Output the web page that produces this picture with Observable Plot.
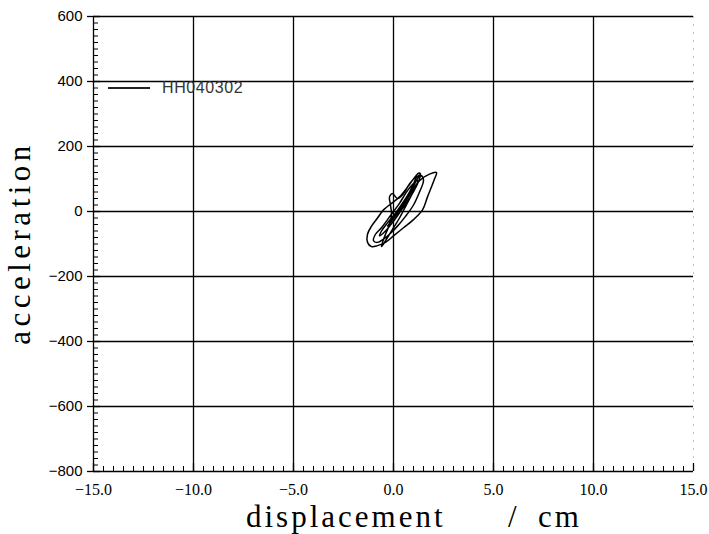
<!DOCTYPE html>
<html>
<head>
<meta charset="utf-8">
<script src="https://cdn.jsdelivr.net/npm/d3@7"></script>
<script src="https://cdn.jsdelivr.net/npm/@observablehq/plot@0.6"></script>
<style>
  html, body { margin: 0; padding: 0; background: #fff; }
  #wrap { position: relative; width: 709px; height: 534px; }
  #legend { position: absolute; left: 108px; top: 79px; display: flex; align-items: center;
            font-family: "Liberation Sans", Arial, sans-serif; font-size: 16px; letter-spacing: 0.6px; color: #333; }
  #legend .sw { width: 42px; height: 0; border-top: 2px solid #222; margin-right: 12px; }
</style>
</head>
<body>
<div id="wrap"><div id="legend"><span class="sw"></span><span>HH040302</span></div></div>
<script>
// displacement (cm) and acceleration
const displacement = [0.2,0.8,1.3,1.8,2.15,2.05,1.7,1.45,1.0,0.5,0.0,-0.4,-0.8,-1.1,-1.3,-1.3,-1.1,-0.8,-0.5,-0.1,0.3,0.7,1.0,1.25,1.35,1.2,0.9,0.6,0.3,0.0,-0.3,-0.5,-0.6,-0.55,-0.4,-0.2,-0.1,-0.15,-0.2,-0.05,0.2,0.5,0.8,1.1,1.4,1.5,1.3,1.0,0.6,0.2,-0.2,-0.5,-0.8,-1.0,-0.9,-0.6,-0.3,0.0,0.3,0.6,0.9,1.2,1.15,0.8,0.4,0.0,-0.4,-0.7,-0.6,-0.3,0.1,0.5,0.8,1.0,1.15,1.3,1.1,0.8,0.4,0.0,-0.3,-0.1,0.3,0.6,0.5,0.1,-0.2];
const acceleration = [-10,50,95,115,120,100,45,5,-25,-50,-75,-95,-105,-108,-95,-70,-45,-20,5,25,45,75,100,118,115,85,50,15,-20,-50,-80,-100,-108,-95,-70,-40,-10,20,45,55,40,55,85,105,110,95,60,20,-15,-45,-70,-85,-95,-90,-70,-50,-25,0,25,55,80,95,80,40,5,-30,-60,-75,-60,-35,-5,30,60,85,105,112,90,55,15,-20,-45,-30,5,35,20,-10,-35];
const xTicks = [-15,-10,-5,0,5,10,15];
const xTickLabels = ["\u221215.0","\u221210.0","\u22125.0","0.0","5.0","10.0","15.0"];
const yTicks = [-800,-600,-400,-200,0,200,400,600];
const yTickLabels = ["\u2212800","\u2212600","\u2212400","\u2212200","0","200","400","600"];
const xGrid = [-10,-5,0,5,10];
const yGrid = [-600,-400,-200,0,200,400,600];
const xMinor = d3.range(-15, 15.01, 0.5);
const yMinor = d3.range(-800, 600.1, 20);

const data = displacement.map((d, i) => ({x: d, y: acceleration[i]}));

const chart = Plot.plot({
  width: 709, height: 534,
  marginLeft: 93, marginRight: 16, marginTop: 16, marginBottom: 63,
  x: {domain: [-15, 15], label: null},
  y: {domain: [-800, 600], label: null},
  style: {background: "#fff", color: "#000"},
  marks: [
    Plot.ruleY(yGrid, {stroke: "#000", strokeWidth: 1.4}),
    Plot.ruleX(xGrid, {stroke: "#000", strokeWidth: 1.3}),
    Plot.ruleX([15], {stroke: "#999", strokeWidth: 1, strokeDasharray: "2,6", strokeOpacity: 0.6}),
    Plot.ruleX([-15], {stroke: "#000", strokeWidth: 1.3}),
    Plot.ruleY([-800], {stroke: "#000", strokeWidth: 1.3}),
    // minor ticks, inward
    Plot.axisY({ticks: yMinor, tickSize: -5, tickFormat: () => "", strokeWidth: 1, label: null}),
    Plot.axisX({ticks: xMinor, tickSize: -5, tickFormat: () => "", strokeWidth: 1, label: null}),
    // major ticks, crossing axis, with labels
    Plot.axisY({ticks: yTicks, tickSize: -7, tickFormat: () => "", strokeWidth: 1.3, label: null}),
    Plot.axisY({ticks: yTicks, tickSize: 6, tickPadding: 5, strokeWidth: 1.3,
      tickFormat: (d) => yTickLabels[yTicks.indexOf(d)], label: null,
      fontSize: 15, fontFamily: "Liberation Sans, Arial, sans-serif"}),
    Plot.axisX({ticks: xTicks, tickSize: -8, tickFormat: () => "", strokeWidth: 1.3, label: null}),
    Plot.axisX({ticks: xTicks, tickSize: 0, tickPadding: 12,
      tickFormat: (d) => xTickLabels[xTicks.indexOf(d)], label: null,
      fontSize: 16, fontFamily: "Liberation Serif, Times New Roman, serif"}),
    Plot.line(data, {x: "x", y: "y", curve: "catmull-rom", stroke: "#000", strokeWidth: 1.5})
  ]
});

const svg = d3.select(chart);
svg.append("text")
  .attr("transform", "translate(30,243) rotate(-90)")
  .attr("text-anchor", "middle")
  .style("font-family", "Liberation Serif, Times New Roman, serif")
  .style("font-size", "31px").style("letter-spacing", "4.5px")
  .text("acceleration");
const xt = svg.append("text")
  .attr("y", 527)
  .attr("text-anchor", "start")
  .style("text-anchor", "start")
  .style("font-family", "Liberation Serif, Times New Roman, serif")
  .style("font-size", "31px").style("letter-spacing", "3px");
xt.append("tspan").attr("x", 246).text("displacement");
xt.append("tspan").attr("x", 508).text("/");
xt.append("tspan").attr("x", 538).text("cm");

document.getElementById("wrap").prepend(chart);
</script>
</body>
</html>
